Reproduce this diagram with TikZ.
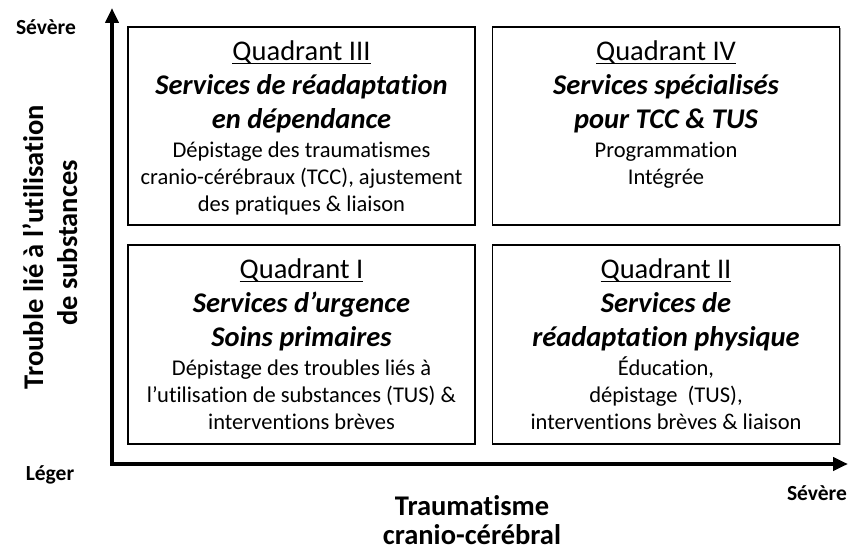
\documentclass[tikz,border=0pt]{standalone}
\usepackage{fontspec}
\setmainfont{Carlito}[Ligatures={NoCommon}]
\usetikzlibrary{arrows.meta,shadows}
\newcommand{\qul}[1]{\setbox0\hbox{#1}\rlap{\rule[-3.8pt]{\wd0}{1.2pt}}\box0}
\tikzset{
  quad/.style={draw=black, line width=1.3pt, fill=white, minimum width=347pt,
    minimum height=198pt, inner sep=0pt,
    drop shadow={shadow xshift=1.3pt, shadow yshift=-1.3pt, fill=black!40, opacity=1}},
  qtitle/.style={font=\fontsize{28.5}{34}\selectfont, anchor=base, inner sep=0pt},
  qserv/.style={font=\fontsize{28.5}{34}\selectfont\bfseries\itshape, anchor=base, inner sep=0pt},
  qtext/.style={font=\fontsize{22.5}{27}\selectfont, anchor=base, inner sep=0pt},
  axislabel/.style={font=\fontsize{28.5}{34}\selectfont\bfseries, anchor=base, inner sep=0pt},
  endlabel/.style={font=\fontsize{21.5}{25}\selectfont\bfseries, anchor=base, inner sep=0pt},
  axisline/.style={line width=4pt, line join=miter,
    {Triangle[length=15pt,width=13pt]}-{Triangle[length=15pt,width=13pt]}}
}
\begin{document}
\begin{tikzpicture}[x=1pt,y=-1pt]
\useasboundingbox (0,0) rectangle (852,551);
% axes
\coordinate (ytip) at (112,8);
\coordinate (origin) at (112,464);
\coordinate (xtip) at (848,464);
\draw[axisline] (ytip) -- (origin) -- (xtip);
% boxes
\node[quad] (q3) at (301.5,126) {};
\node[quad] (q4) at (666,126) {};
\node[quad, minimum height=199pt] (q1) at (301.5,344.5) {};
\node[quad, minimum height=199pt] (q2) at (666,344.5) {};
% Q3
\node[qtitle] (q3t) at ([yshift=-34pt]q3.north) {\qul{Quadrant III}};
\node[qserv] (q3s1) at ([yshift=-68pt]q3.north) {Services de réadaptation};
\node[qserv] (q3s2) at ([yshift=-102pt]q3.north) {en dépendance};
\node[qtext] (q3d1) at ([yshift=-131pt]q3.north) {Dépistage des traumatismes};
\node[qtext] (q3d2) at ([yshift=-158pt]q3.north) {cranio-cérébraux (TCC), ajustement};
\node[qtext] (q3d3) at ([yshift=-185pt]q3.north) {des pratiques \& liaison};
% Q4
\node[qtitle] (q4t) at ([yshift=-34pt]q4.north) {\qul{Quadrant IV}};
\node[qserv] (q4s1) at ([yshift=-68pt]q4.north) {Services spécialisés};
\node[qserv] (q4s2) at ([yshift=-102pt]q4.north) {pour TCC \& TUS};
\node[qtext] (q4d1) at ([yshift=-131pt]q4.north) {Programmation};
\node[qtext] (q4d2) at ([yshift=-158pt]q4.north) {Intégrée};
% Q1
\node[qtitle] (q1t) at ([yshift=-34pt]q1.north) {\qul{Quadrant I}};
\node[qserv] (q1s1) at ([yshift=-68pt]q1.north) {Services d’urgence};
\node[qserv] (q1s2) at ([yshift=-102pt]q1.north) {Soins primaires};
\node[qtext] (q1d1) at ([yshift=-131pt]q1.north) {Dépistage des troubles liés à};
\node[qtext] (q1d2) at ([yshift=-158pt]q1.north) {l’utilisation de substances (TUS) \&};
\node[qtext] (q1d3) at ([yshift=-185pt]q1.north) {interventions brèves};
% Q2
\node[qtitle] (q2t) at ([yshift=-34pt]q2.north) {\qul{Quadrant II}};
\node[qserv] (q2s1) at ([yshift=-68pt]q2.north) {Services de};
\node[qserv] (q2s2) at ([yshift=-102pt]q2.north) {réadaptation physique};
\node[qtext] (q2d1) at ([yshift=-131pt]q2.north) {Éducation,};
\node[qtext] (q2d2) at ([yshift=-158pt]q2.north) {dépistage\ \ (TUS),};
\node[qtext] (q2d3) at ([yshift=-185pt]q2.north) {interventions brèves \& liaison};
% axis labels
\node[endlabel] (ysev) at (46,35) {Sévère};
\node[endlabel] (oleg) at (50,480) {Léger};
\node[endlabel] (xsev) at (817,500) {Sévère};
\node[axislabel] (xl1) at (472,515) {Traumatisme};
\node[axislabel] (xl2) at (472,544) {cranio-cérébral};
\node[axislabel, rotate=90] (yl1) at (43,247) {Trouble lié à l’utilisation};
\node[axislabel, rotate=90] (yl2) at (77,243) {de substances};
\end{tikzpicture}
\end{document}
